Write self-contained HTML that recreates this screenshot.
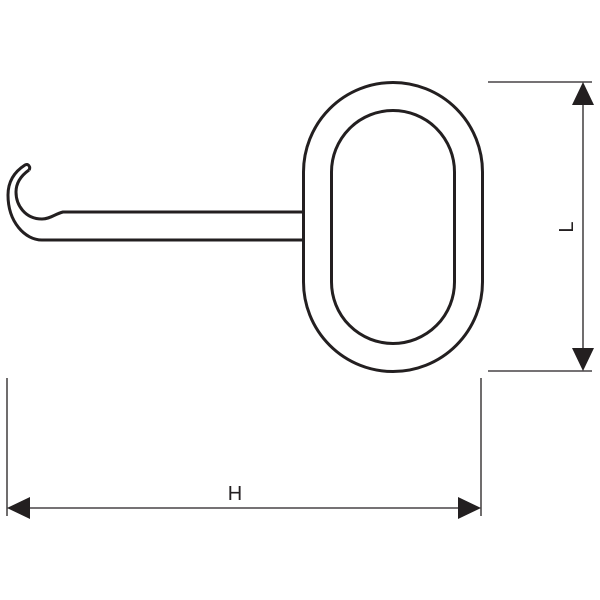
<!DOCTYPE html>
<html><head><style>html,body{margin:0;padding:0;background:#fff;}svg{display:block}</style></head>
<body>
<svg width="600" height="600" viewBox="0 0 600 600" xmlns="http://www.w3.org/2000/svg">
<g fill="none" stroke="#231f20" stroke-width="3">
  <rect x="303.5" y="82.5" width="179" height="289" rx="89.5" ry="89.5"/>
  <rect x="331.5" y="110.5" width="123" height="233" rx="61.5" ry="61.5"/>
  <path d="M303 212 L63 212 C55 214 50 219 42 219 C25 219 16 205 16 192 C16 182 22 175 29 170"/>
  <path d="M29 170 C31 167 28 163 25 165 C14 172 8 182 8 195 C8 222 25 240 42 240 L303 240"/>
</g>
<g stroke="#231f20" stroke-width="1.3" fill="none">
  <line x1="488" y1="82" x2="592" y2="82"/>
  <line x1="488" y1="371" x2="592" y2="371"/>
  <line x1="583" y1="90" x2="583" y2="362"/>
  <line x1="7" y1="378" x2="7" y2="516"/>
  <line x1="481" y1="378" x2="481" y2="516"/>
  <line x1="20" y1="508" x2="470" y2="508"/>
</g>
<g fill="#231f20">
  <polygon points="583,82 572,105 594,105"/>
  <polygon points="583,371 572,348 594,348"/>
  <polygon points="7,508 30,497 30,519"/>
  <polygon points="481,508 458,497 458,519"/>
</g>
<text x="235" y="500" font-family="Liberation Sans, sans-serif" font-size="20" fill="#231f20" text-anchor="middle">H</text>
<text x="0" y="0" font-family="Liberation Sans, sans-serif" font-size="20" fill="#231f20" text-anchor="middle" transform="translate(573,227) rotate(-90)">L</text>
</svg>
</body></html>
